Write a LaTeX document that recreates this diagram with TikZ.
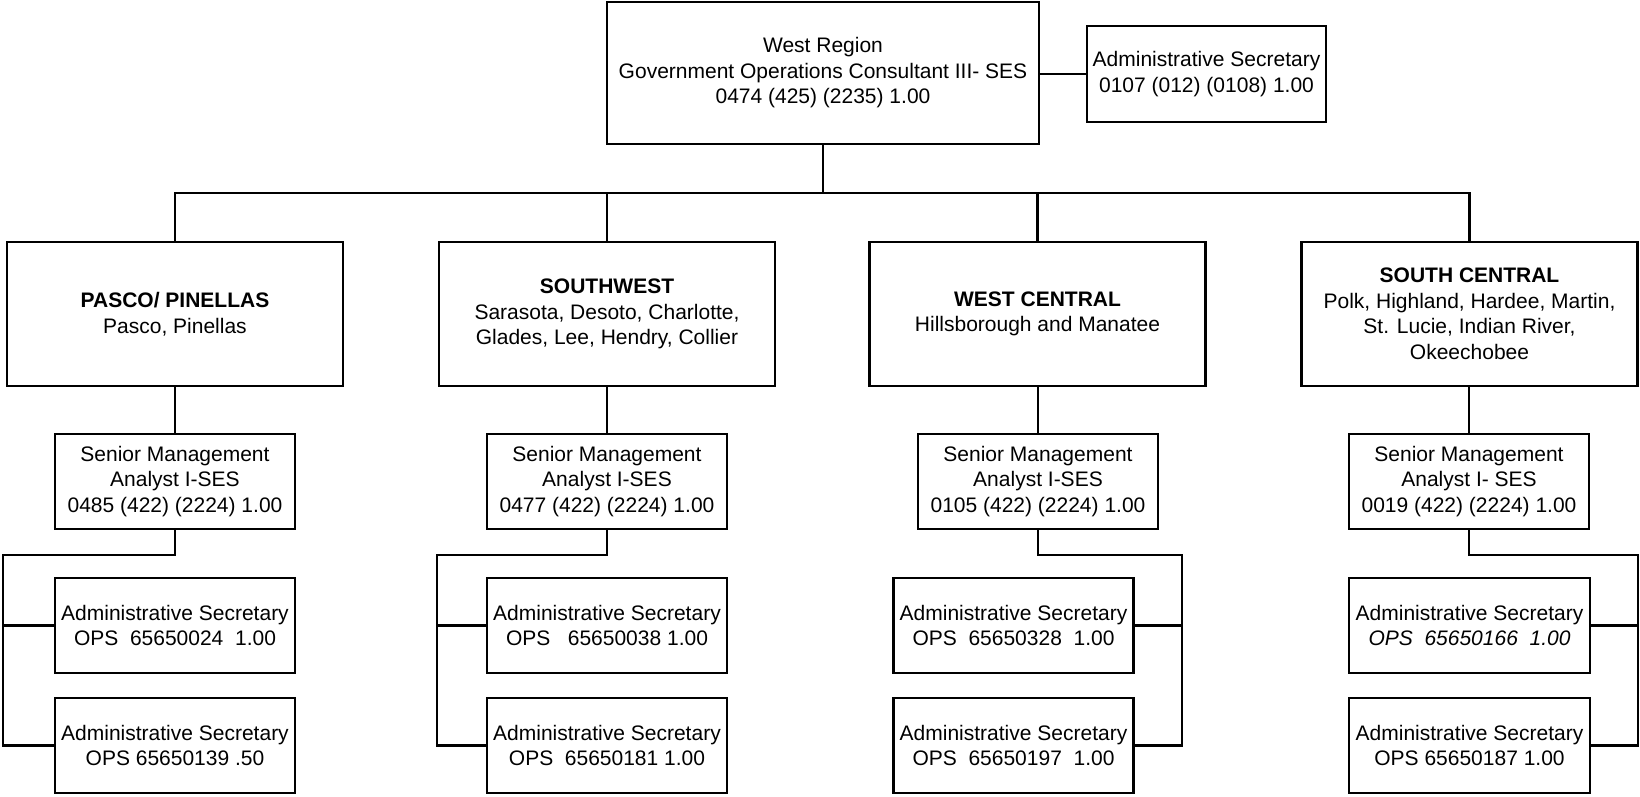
\documentclass[tikz,border=0pt]{standalone}
\usepackage{fontspec}
\setmainfont{Liberation Sans}
\begin{document}
\begin{tikzpicture}[x=1pt,y=-1pt,
  box/.style={draw, line width=2.8pt, inner sep=0pt, align=center,
              font=\fontsize{21}{25.5}\selectfont},
  topbox/.style={box, minimum width=432, minimum height=142},
  secbox/.style={box, minimum width=239, minimum height=96},
  regionbox/.style={box, minimum width=336, minimum height=144},
  staffbox/.style={box, minimum width=240, minimum height=95},
  wire/.style={line width=2.8pt, line join=miter}]
\useasboundingbox (0,0) rectangle (1640,796);

% head of the region and its secretary
\node[topbox] (top) at (823,73) {West Region\\Government Operations Consultant III- SES\\0474 (425) (2235) 1.00};
\node[secbox] (topsec) at (1206.5,74) {Administrative Secretary\\0107 (012) (0108) 1.00};

% the four districts
\node[regionbox] (pp) at (175,314) {\textbf{PASCO/ PINELLAS}\\Pasco, Pinellas};
\node[regionbox] (sw) at (607,314) {\textbf{SOUTHWEST}\\Sarasota, Desoto, Charlotte,\\Glades, Lee, Hendry, Collier};
\node[regionbox] (wc) at (1037.5,314) {\textbf{WEST CENTRAL}\\Hillsborough and Manatee};
\node[regionbox] (sc) at (1469.5,314) {\textbf{SOUTH CENTRAL}\\Polk, Highland, Hardee, Martin,\\St. Lucie, Indian River,\\Okeechobee};

% analysts
\node[staffbox] (ppa) at (175,481.5) {Senior Management\\Analyst I-SES\\0485 (422) (2224) 1.00};
\node[staffbox] (swa) at (607,481.5) {Senior Management\\Analyst I-SES\\0477 (422) (2224) 1.00};
\node[staffbox] (wca) at (1038,481.5) {Senior Management\\Analyst I-SES\\0105 (422) (2224) 1.00};
\node[staffbox] (sca) at (1469,481.5) {Senior Management\\Analyst I- SES\\0019 (422) (2224) 1.00};

% secretaries
\node[staffbox] (pp1) at (175,625.5) {Administrative Secretary\\OPS~ 65650024~ 1.00};
\node[staffbox] (pp2) at (175,745.5) {Administrative Secretary\\OPS 65650139 .50};
\node[staffbox] (sw1) at (607,625.5) {Administrative Secretary\\OPS~~ 65650038 1.00};
\node[staffbox] (sw2) at (607,745.5) {Administrative Secretary\\OPS~ 65650181 1.00};
\node[staffbox] (wc1) at (1013.5,625.5) {Administrative Secretary\\OPS~ 65650328~ 1.00};
\node[staffbox] (wc2) at (1013.5,745.5) {Administrative Secretary\\OPS~ 65650197~ 1.00};
\node[staffbox, minimum width=241] (sc1) at (1469.5,625.5) {Administrative Secretary\\\textit{OPS~ 65650166~ 1.00}};
\node[staffbox, minimum width=241] (sc2) at (1469.5,745.5) {Administrative Secretary\\OPS 65650187 1.00};

% junction points
\coordinate (bus) at (823,193);
\coordinate (ppr) at (3,555);
\coordinate (swr) at (437,555);
\coordinate (wcr) at (1182,555);
\coordinate (scr) at (1638,555);

% head connections
\draw[wire] (top.east |- topsec.west) -- (topsec.west);
\draw[wire] (top.south) -- (bus);
\draw[wire] (pp.north) |- (bus) -| (sc.north);
\draw[wire] (sw.north) -- (sw.north |- bus);
\draw[wire] (wc.north) -- (wc.north |- bus);

% districts to analysts
\draw[wire] (pp.south -| ppa.north) -- (ppa.north);
\draw[wire] (sw.south -| swa.north) -- (swa.north);
\draw[wire] (wc.south -| wca.north) -- (wca.north);
\draw[wire] (sc.south -| sca.north) -- (sca.north);

% analysts to secretaries
\draw[wire] (ppa.south) |- (ppr) |- (pp2.west);
\draw[wire] (ppr |- pp1.west) -- (pp1.west);
\draw[wire] (swa.south) |- (swr) |- (sw2.west);
\draw[wire] (swr |- sw1.west) -- (sw1.west);
\draw[wire] (wca.south) |- (wcr) |- (wc2.east);
\draw[wire] (wcr |- wc1.east) -- (wc1.east);
\draw[wire] (sca.south) |- (scr) |- (sc2.east);
\draw[wire] (scr |- sc1.east) -- (sc1.east);
\end{tikzpicture}
\end{document}
